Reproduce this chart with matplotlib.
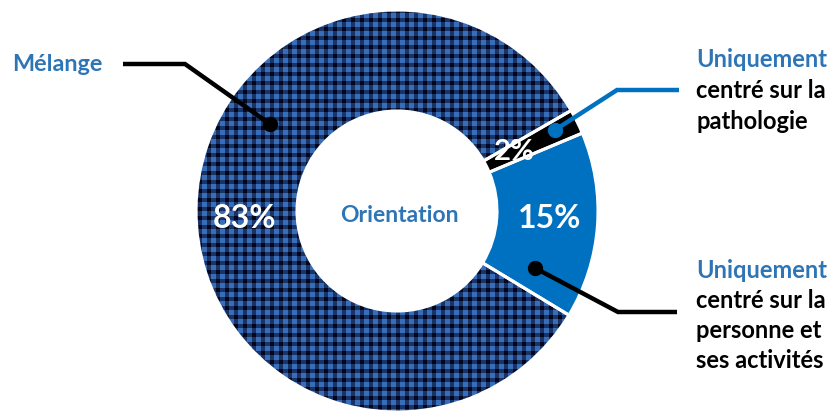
import matplotlib.pyplot as plt
import numpy as np
from matplotlib.patches import Wedge

W, H = 835, 412

# orientation des prises en charge
shares = [2, 15, 83]
slice_names = ["pathologie", "personne", "melange"]
slice_colors = ["#000000", "#0070C0", "#13284F"]
center_title = "Orientation"

label_melange = "Mélange"
label_patho = ["Uniquement", "centré sur la", "pathologie"]
label_pers = ["Uniquement", "centré sur la", "personne et", "ses activités"]

BLUE = "#2E75B6"
FONT = ["Lato", "DejaVu Sans"]


def py(y):
    # pixel rows run downward, data y runs upward
    return H - y


def plaid(shape, period=9, stripe=4):
    rows, cols = np.indices(shape)
    dark = (rows % period < stripe).astype(int) + (cols % period < stripe).astype(int)
    pal = np.array([[0.22, 0.43, 0.72], [0.10, 0.20, 0.40], [0.01, 0.03, 0.12]])
    return pal[dark]


fig = plt.figure(figsize=(W / 100, H / 100), dpi=100)
ax = fig.add_axes([0, 0, 1, 1])

cx, cy, r_out, ring = 397, py(211), 201, 101
wedges, _ = ax.pie(shares, colors=slice_colors, startangle=30, counterclock=False,
                   radius=r_out, center=(cx, cy),
                   wedgeprops=dict(width=ring, edgecolor="none"))

# checked fill for the large slice
img = ax.imshow(plaid((H, W)), extent=(0, W, 0, H), origin="upper",
                interpolation="nearest", zorder=2)
img.set_clip_path(wedges[2])

# white separators drawn over everything
for w in wedges:
    ax.add_patch(Wedge(w.center, w.r, w.theta1, w.theta2, width=w.width,
                       facecolor="none", edgecolor="white", lw=2.2, zorder=3))

ax.set_xlim(0, W)
ax.set_ylim(0, H)
ax.set_aspect("equal")
ax.axis("off")

# percentages
pct_pos = {"pathologie": (514, 152), "personne": (550, 218), "melange": (244, 218)}
pct_size = {"pathologie": 21, "personne": 23, "melange": 23}
for name, v in zip(slice_names, shares):
    x, y = pct_pos[name]
    ax.text(x, py(y), f"{v}%", color="white", fontsize=pct_size[name], fontweight="bold",
            family=FONT, ha="center", va="center", zorder=5)

ax.text(cx + 2, py(215), center_title, color=BLUE, fontsize=16.5, fontweight="bold",
        family=FONT, ha="center", va="center", zorder=5)

# leader lines
leaders = [
    ([270, 185, 123], [124, 64, 64], "black"),
    ([555, 617, 679], [130, 90, 90], "#0070C0"),
    ([535, 618, 677], [268, 312, 312], "black"),
]
for xs, ys, c in leaders:
    ax.plot(xs, [py(v) for v in ys], color=c, lw=3.2, solid_capstyle="butt",
            solid_joinstyle="miter", zorder=4)
    ax.plot(xs[0], py(ys[0]), "o", color=c, ms=10, zorder=4)

ax.text(12, py(64), label_melange, color=BLUE, fontsize=16.8, fontweight="bold",
        family=FONT, ha="left", va="center")

for i, line in enumerate(label_patho):
    ax.text(696, py(59 + 31 * i), line, color=BLUE if i == 0 else "black",
            fontsize=17, fontweight="bold", family=FONT, ha="left", va="center")

for i, line in enumerate(label_pers):
    ax.text(696, py(271 + 30 * i), line, color=BLUE if i == 0 else "black",
            fontsize=17, fontweight="bold", family=FONT, ha="left", va="center")

fig.savefig("out.png", dpi=100, facecolor="white")
